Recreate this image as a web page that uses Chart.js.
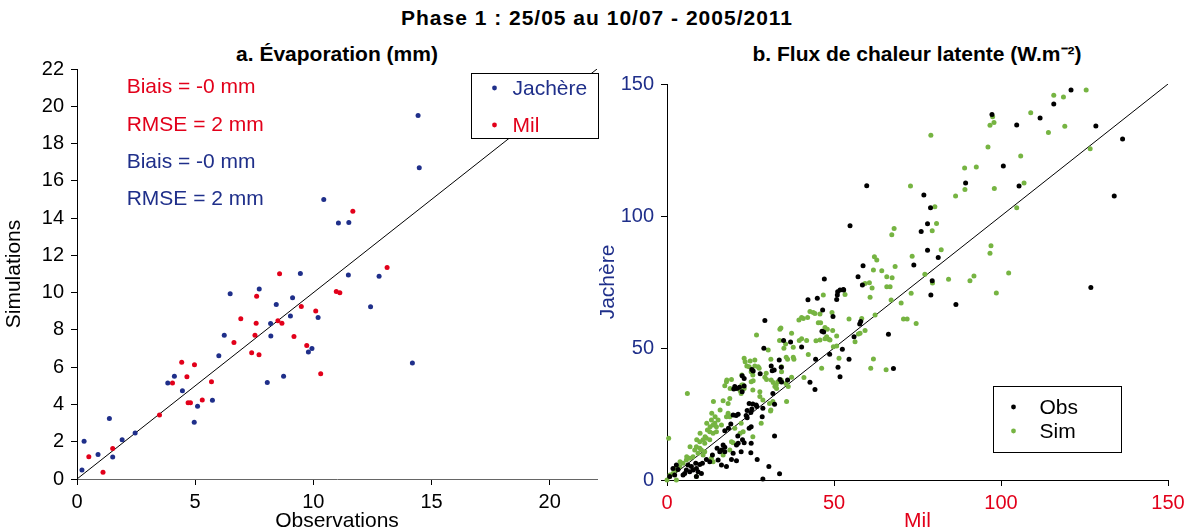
<!DOCTYPE html>
<html>
<head>
<meta charset="utf-8">
<script src="https://cdn.jsdelivr.net/npm/chart.js@4/dist/chart.umd.min.js"></script>
<style>
body { margin: 0; background: #fff; width: 1194px; height: 531px; position: relative; overflow: hidden;
       font-family: "Liberation Sans", Arial, sans-serif; }
.title { position: absolute; font-weight: bold; text-align: center; white-space: nowrap; color: #000; }
#mainTitle { left: 0; width: 1194px; top: 6px; font-size: 21px; line-height: 24px; letter-spacing: 1px; }
#titleA { left: 137px; width: 400px; top: 42px; font-size: 21px; line-height: 24px; }
#titleB { left: 717px; width: 400px; top: 42px; font-size: 21px; line-height: 24px; }
#wrapA { position: absolute; left: 0; top: 0; width: 601px; height: 531px; }
#wrapB { position: absolute; left: 594px; top: 0; width: 600px; height: 531px; }
</style>
</head>
<body>
<div class="title" id="mainTitle">Phase 1 : 25/05 au 10/07 - 2005/2011</div>
<div class="title" id="titleA">a. Évaporation (mm)</div>
<div class="title" id="titleB">b. Flux de chaleur latente (W.m⁻²)</div>
<div id="wrapA"><canvas id="evapChart" width="601" height="531"></canvas></div>
<div id="wrapB"><canvas id="fluxChart" width="600" height="531"></canvas></div>

<script>
// a. Evaporation (mm): [observation, simulation]
const evapJachere = [
    [14.43, 19.5], [14.48, 16.7], [10.44, 15.0], [11.06, 13.73], [11.5, 13.76],
    [9.45, 11.03], [11.48, 10.94], [12.78, 10.88], [9.12, 9.72], [12.42, 9.24],
    [9.03, 8.74], [10.2, 8.67], [9.94, 7.0], [9.79, 6.81], [14.19, 6.22],
    [8.74, 5.52], [6.48, 9.94], [7.71, 10.2], [8.43, 9.37], [8.19, 8.35],
    [6.23, 7.72], [8.2, 7.67], [6.0, 6.61], [4.12, 5.52], [3.84, 5.15],
    [8.05, 5.18], [4.46, 4.74], [5.73, 4.22], [5.1, 3.91], [1.37, 3.25],
    [4.96, 3.04], [2.46, 2.47], [1.91, 2.11], [0.3, 2.02], [0.89, 1.32],
    [1.51, 1.18], [0.21, 0.48]
];
const evapMil = [
    [11.67, 14.37], [13.12, 11.35], [8.57, 11.01], [10.97, 10.06], [11.12, 9.99],
    [9.49, 9.26], [10.1, 9.01], [8.67, 8.36], [9.18, 7.65], [9.72, 7.17],
    [10.31, 5.65], [7.6, 9.8], [6.93, 8.6], [7.58, 8.36], [8.5, 8.49],
    [6.64, 7.33], [7.53, 7.72], [7.39, 6.77], [7.7, 6.67], [4.43, 6.26],
    [4.97, 6.13], [4.65, 5.49], [4.04, 5.15], [5.69, 5.22], [5.3, 4.24],
    [4.7, 4.09], [4.8, 4.09], [3.49, 3.43], [1.51, 1.64], [0.5, 1.2], [1.1, 0.36]
];
const evapRange = [0, 22];
const statLabels = ['Biais = -0 mm', 'RMSE = 2 mm', 'Biais = -0 mm', 'RMSE = 2 mm'];

// b. Latent heat flux (W.m-2): [Mil, Jachere]
const fluxObs = [
    [120.96, 147.7], [115.8, 142.4], [111.7, 137.1], [97.3, 138.4], [104.7, 134.5],
    [128.4, 134.1], [136.4, 129.2], [100.7, 118.9], [89.4, 112.5], [105.4, 111.4],
    [76.9, 108.0], [78.9, 103.1], [78.0, 97.1], [76.1, 94.1], [78.0, 87.0],
    [81.2, 84.3], [73.9, 81.4], [133.9, 107.6], [79.4, 75.5], [126.9, 72.9],
    [79.0, 70.1], [86.5, 66.5], [66.3, 55.2], [67.8, 42.2], [59.8, 111.5],
    [54.8, 96.3], [58.7, 81.2], [47.1, 76.1], [57.2, 77.0], [52.8, 72.2],
    [58.5, 73.9], [42.2, 68.3], [45.0, 68.8], [51.1, 71.3], [51.8, 72.0],
    [52.9, 72.0], [50.8, 68.4], [51.0, 70.1], [46.6, 64.4], [49.7, 61.9],
    [29.3, 60.4], [46.4, 56.3], [46.9, 56.1], [34.9, 52.8], [37.0, 52.3],
    [29.0, 49.9], [40.3, 50.4], [57.7, 59.1], [56.0, 54.3], [58.0, 60.0],
    [52.5, 49.5], [48.7, 47.6], [44.5, 45.7], [54.5, 45.7], [51.2, 42.7],
    [51.8, 39.1], [31.2, 43.2], [32.1, 41.7], [33.6, 45.5], [34.2, 42.7],
    [31.5, 41.4], [25.4, 41.9], [25.8, 41.3], [27.9, 40.2], [33.8, 38.1],
    [34.3, 37.1], [42.8, 37.0], [44.3, 34.3], [28.7, 0.4], [22.5, 39.5],
    [20.3, 35.4], [20.0, 34.5], [31.7, 32.8], [24.6, 29.0], [25.7, 28.8],
    [26.7, 28.4], [28.7, 27.2], [32.2, 28.7], [21.3, 24.9], [20.7, 24.4],
    [19.8, 24.6], [23.7, 24.4], [24.0, 23.6], [25.2, 20.2], [24.6, 19.6],
    [28.5, 24.0], [32.2, 16.7], [19.1, 21.2], [18.4, 19.6], [17.3, 18.7],
    [21.2, 16.7], [22.6, 15.2], [23.1, 14.1], [20.8, 13.3], [21.3, 13.9],
    [25.2, 13.9], [25.1, 10.3], [16.8, 13.3], [17.3, 12.4], [16.3, 11.4],
    [17.3, 10.7], [15.0, 12.0], [15.8, 10.7], [13.6, 9.5], [15.3, 7.6],
    [19.8, 10.1], [19.3, 7.8], [20.8, 7.3], [22.2, 10.7], [16.3, 5.7],
    [17.8, 5.1], [27.0, 7.8], [30.5, 5.1], [11.8, 7.8], [12.8, 6.9],
    [8.6, 6.3], [9.8, 5.9], [10.6, 6.3], [8.8, 4.4], [7.8, 3.8],
    [6.8, 3.1], [5.8, 3.8], [5.3, 2.5], [4.8, 1.9], [9.3, 3.1],
    [10.3, 2.5], [8.8, 1.3], [2.8, 5.7], [1.8, 4.4], [3.3, 4.0],
    [0.8, 1.3], [2.3, 1.9], [7.3, 5.1], [6.3, 5.7], [33.7, 2.4],
    [36.1, 37.9], [23.1, 38.4], [23.1, 35.6], [20.9, 34.7], [22.5, 33.4],
    [21.7, 35.1], [25.4, 26.9], [25.1, 25.6], [24.0, 26.3], [26.9, 27.8]
];
const fluxSim = [
    [125.5, 147.7], [115.8, 145.7], [118.7, 145.1], [108.9, 139.1], [97.5, 137.6],
    [97.9, 135.4], [96.7, 134.4], [114.2, 131.6], [119.1, 134.0], [79.0, 130.6],
    [96.1, 126.1], [126.7, 125.5], [105.9, 122.7], [89.1, 118.2], [92.6, 118.6],
    [72.9, 111.4], [98.0, 110.4], [89.2, 110.0], [106.9, 112.5], [86.4, 107.6],
    [80.2, 103.5], [104.7, 103.1], [80.7, 97.2], [79.4, 94.4], [68.0, 95.3],
    [67.3, 92.9], [73.4, 84.8], [82.1, 87.2], [97.0, 88.7], [96.7, 85.9],
    [68.3, 80.9], [64.3, 79.3], [77.2, 77.9], [67.4, 76.6], [84.3, 76.0],
    [91.9, 77.3], [90.7, 75.5], [102.3, 78.4], [79.5, 74.6], [65.8, 73.2],
    [66.8, 73.2], [73.1, 70.7], [67.1, 68.2], [70.1, 67.0], [98.6, 70.8],
    [70.8, 61.0], [71.9, 61.0], [74.6, 59.3], [65.6, 41.8], [62.1, 84.6],
    [62.8, 83.3], [61.8, 79.5], [59.3, 74.4], [60.6, 74.7], [61.4, 72.7],
    [60.8, 69.2], [53.3, 70.3], [46.8, 70.1], [42.8, 63.8], [43.8, 63.4],
    [45.8, 62.9], [49.4, 63.4], [40.3, 61.6], [39.5, 60.6], [42.1, 61.6],
    [62.3, 62.5], [54.5, 61.0], [45.3, 59.6], [46.0, 59.6], [47.3, 57.8],
    [48.0, 57.1], [34.1, 57.6], [33.8, 57.1], [49.6, 56.6], [58.3, 61.2],
    [59.3, 56.6], [57.3, 55.3], [26.8, 54.9], [50.8, 54.5], [45.8, 53.0],
    [48.4, 53.3], [44.6, 52.7], [47.3, 53.5], [39.6, 52.8], [40.3, 53.5],
    [41.8, 52.8], [33.7, 52.8], [35.5, 51.5], [37.8, 50.3], [35.0, 49.9],
    [56.3, 52.4], [30.3, 49.2], [49.8, 50.5], [50.8, 50.8], [42.3, 47.5],
    [35.7, 46.5], [36.1, 45.7], [37.8, 46.5], [38.0, 45.7], [31.1, 45.7],
    [51.5, 46.1], [61.8, 45.8], [23.1, 46.1], [23.4, 44.8], [24.9, 45.1],
    [26.3, 45.5], [23.9, 43.2], [24.6, 42.9], [26.3, 43.2], [27.3, 42.9],
    [27.6, 42.3], [34.3, 42.9], [61.0, 42.3], [34.3, 41.0], [22.4, 39.8],
    [25.8, 37.6], [29.3, 38.9], [29.8, 38.1], [31.8, 36.9], [37.3, 38.9],
    [41.0, 38.8], [32.3, 35.4], [32.8, 34.7], [35.6, 36.6], [36.3, 35.4],
    [22.4, 36.0], [23.1, 34.7], [6.1, 32.8], [0.5, 15.8], [17.3, 35.7],
    [17.8, 37.2], [19.3, 38.1], [18.8, 30.9], [18.3, 29.0], [16.8, 30.0],
    [22.8, 36.0], [22.2, 32.8], [21.9, 33.8], [25.2, 37.2], [25.7, 34.1],
    [27.8, 33.4], [27.8, 31.6], [28.7, 30.3], [32.7, 36.0], [33.2, 37.2],
    [34.2, 37.9], [31.2, 37.9], [31.0, 26.1], [28.2, 21.5], [25.7, 39.8],
    [25.2, 41.0], [29.7, 40.4], [18.3, 25.3], [18.8, 24.0], [17.8, 24.0],
    [13.3, 22.7], [14.3, 21.5], [13.8, 20.8], [14.8, 20.2], [15.3, 22.7],
    [16.3, 20.8], [12.1, 18.9], [12.8, 18.3], [13.8, 17.7], [14.8, 18.3],
    [20.3, 19.6], [22.8, 18.3], [22.2, 21.5], [19.3, 14.5], [19.8, 14.1],
    [11.8, 15.8], [12.8, 15.2], [10.8, 15.2], [9.8, 14.5], [11.3, 13.9],
    [8.8, 12.6], [9.8, 12.0], [8.3, 11.4], [10.3, 11.4], [9.3, 10.1],
    [10.8, 9.5], [11.3, 10.7], [7.8, 8.8], [6.8, 8.2], [5.8, 7.6],
    [4.8, 6.3], [3.8, 5.1], [2.8, 3.8], [1.8, 2.5], [0.8, 1.3],
    [0.0, 0.0], [13.8, 6.9], [13.3, 8.2], [8.8, 1.3], [2.8, 0.0],
    [18.8, 11.4], [16.8, 9.5], [25.7, 16.4], [30.7, 29.0], [31.7, 29.7],
    [40.8, 61.2], [44.3, 63.1], [65.8, 77.0], [57.8, 55.6], [46.3, 42.3],
    [35.8, 29.7], [31.1, 26.5], [21.9, 17.7], [37.3, 55.6], [47.8, 54.3],
    [48.8, 53.0], [17.9, 37.9], [18.9, 34.7], [13.9, 29.7], [15.9, 26.5],
    [13.4, 25.3], [14.4, 24.0], [11.9, 21.5], [12.9, 20.2], [9.9, 17.7],
    [11.4, 16.4], [8.9, 15.2], [6.9, 12.6], [5.9, 8.8], [3.9, 6.9],
    [2.4, 4.4], [0.9, 1.9]
];
const fluxRange = [0, 150];

const RED = '#e2001a';
const BLUE = '#1f2f8a';
const GREEN = '#76b442';
const FONT = '"Liberation Sans", Arial, sans-serif';

Chart.defaults.font.family = FONT;
Chart.defaults.color = '#000';

function toPoints(pairs) {
    return pairs.map(p => ({ x: p[0], y: p[1] }));
}

// legend drawn in a framed white box inside the plot
const boxLegend = {
    id: 'boxLegend',
    afterDatasetsDraw(chart, args, opts) {
        const { ctx, chartArea } = chart;
        const x0 = Math.round(chartArea.left + opts.left) + 0.5;
        const y0 = Math.round(chartArea.top + opts.top) + 0.5;
        ctx.save();
        ctx.fillStyle = '#fff';
        ctx.fillRect(x0, y0, opts.width, opts.height);
        ctx.strokeStyle = '#000';
        ctx.lineWidth = 1;
        ctx.strokeRect(x0, y0, opts.width, opts.height);
        ctx.font = '21px ' + FONT;
        ctx.textBaseline = 'middle';
        opts.items.forEach((idx, i) => {
            const ds = chart.data.datasets[idx];
            const y = y0 + opts.firstRow + i * opts.rowGap;
            ctx.fillStyle = ds.backgroundColor;
            ctx.beginPath();
            ctx.arc(x0 + opts.dotX, y, 2.4, 0, Math.PI * 2);
            ctx.fill();
            ctx.fillStyle = opts.coloredText ? ds.backgroundColor : '#000';
            ctx.fillText(ds.label, x0 + opts.textX, y + 1);
        });
        ctx.restore();
    }
};

// bias / rmse text block of panel a
const statText = {
    id: 'statText',
    afterDatasetsDraw(chart, args, opts) {
        const { ctx, scales } = chart;
        ctx.save();
        ctx.font = '21px ' + FONT;
        ctx.textBaseline = 'middle';
        statLabels.forEach((t, i) => {
            ctx.fillStyle = opts.colors[i];
            ctx.fillText(t, scales.x.getPixelForValue(opts.x), scales.y.getPixelForValue(opts.y[i]));
        });
        ctx.restore();
    }
};

function axis(min, max, step, title, titleColor, tickColor, lineColor, size, isY) {
    return {
        type: 'linear',
        min: min,
        max: max,
        ticks: { stepSize: step, includeBounds: false, color: tickColor, font: { size: 20 }, padding: isY ? 7 : 5 },
        grid: { drawOnChartArea: false, drawTicks: true, tickLength: 6, color: '#000' },
        border: { display: true, color: lineColor, width: 1 },
        title: {
            display: true, text: title, color: titleColor, font: { size: 21 },
            padding: isY ? { top: 2, bottom: 0 } : { top: 0, bottom: -3 }
        },
        afterFit: s => { if (isY) { s.width = size; } else { s.height = size; } }
    };
}

new Chart(document.getElementById('evapChart'), {
    type: 'scatter',
    data: {
        datasets: [
            { label: 'Jachère', data: toPoints(evapJachere), backgroundColor: BLUE, borderWidth: 0, pointRadius: 2.5, clip: false },
            { label: 'Mil', data: toPoints(evapMil), backgroundColor: RED, borderWidth: 0, pointRadius: 2.5, clip: false },
            { label: '1:1', data: toPoints([[evapRange[0], evapRange[0]], [evapRange[1], evapRange[1]]]),
              showLine: true, borderColor: '#000', borderWidth: 1, pointRadius: 0, backgroundColor: '#000' }
        ]
    },
    options: {
        responsive: false,
        animation: false,
        events: [],
        layout: { padding: { top: 69, right: 4, left: 0, bottom: 0 } },
        scales: {
            x: axis(evapRange[0], evapRange[1], 5, 'Observations', '#000', '#000', '#666', 52, false),
            y: axis(evapRange[0], evapRange[1], 2, 'Simulations', '#000', '#000', '#000', 77, true)
        },
        plugins: {
            legend: { display: false },
            tooltip: { enabled: false },
            boxLegend: { left: 394, top: 4, width: 127, height: 65, firstRow: 14.5, rowGap: 37, dotX: 23, textX: 41,
                         items: [0, 1], coloredText: true },
            statText: { x: 2.1, y: [21, 19, 17, 15], colors: [RED, RED, BLUE, BLUE] }
        }
    },
    plugins: [boxLegend, statText]
});

new Chart(document.getElementById('fluxChart'), {
    type: 'scatter',
    data: {
        datasets: [
            { label: 'Obs', data: toPoints(fluxObs), backgroundColor: '#000', borderWidth: 0, pointRadius: 2.5, clip: false },
            { label: 'Sim', data: toPoints(fluxSim), backgroundColor: GREEN, borderWidth: 0, pointRadius: 2.5, clip: false },
            { label: '1:1', data: toPoints([[fluxRange[0], fluxRange[0]], [fluxRange[1], fluxRange[1]]]),
              showLine: true, borderColor: '#000', borderWidth: 1, pointRadius: 0, backgroundColor: '#000' }
        ]
    },
    options: {
        responsive: false,
        animation: false,
        events: [],
        layout: { padding: { top: 84, right: 26, left: 0, bottom: 0 } },
        scales: {
            x: axis(fluxRange[0], fluxRange[1], 50, 'Mil', RED, RED, '#000', 51, false),
            y: axis(fluxRange[0], fluxRange[1], 50, 'Jachère', BLUE, BLUE, '#000', 73, true)
        },
        plugins: {
            legend: { display: false },
            tooltip: { enabled: false },
            boxLegend: { left: 326, top: 302, width: 128, height: 66, firstRow: 20.5, rowGap: 24, dotX: 20, textX: 46,
                         items: [0, 1], coloredText: false }
        }
    },
    plugins: [boxLegend]
});
</script>
</body>
</html>
